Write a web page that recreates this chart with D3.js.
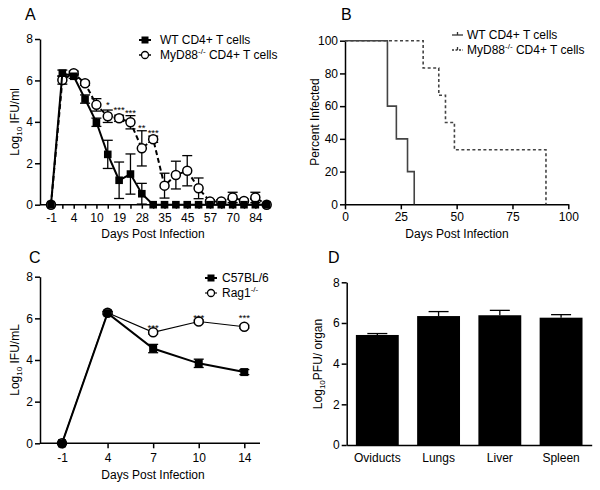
<!DOCTYPE html>
<html><head><meta charset="utf-8">
<script src="https://cdn.jsdelivr.net/npm/d3@7"></script>
<style>
body{margin:0;background:#fff;}
svg{font-family:"Liberation Sans",Arial,Helvetica,sans-serif;}
</style></head>
<body>
<svg id="chart" width="600" height="490"></svg>
<script>
// ---------- DATA ----------
// Panel A
const catsA = ["-1","1","4","7","10","14","19","24","28","31","35","40","45","50","57","63","70","77","84","90"];
const labelsA = ["-1","4","10","19","28","35","45","57","70","84"];
const wtMean = [0,6.35,6.2,5.1,3.98,2.43,1.18,1.48,0.53,0,0,0,0,0,0,0,0,0,0,0];
const wtErr  = [0,0.15,0.1,0.2,0.2,0.68,0.88,0.97,0.5,0,0,0,0,0,0,0,0,0,0,0];
const myMean = [0,6.02,6.35,5.86,4.82,4.27,4.17,3.98,2.72,3.16,0.92,1.43,1.64,0.79,0.16,0.16,0.35,0.18,0.35,0];
const myErr  = [0,0.2,0.1,0.1,0.3,0.3,0.15,0.32,0.85,0.15,0.6,0.67,0.73,0.5,0.08,0.08,0.25,0.08,0.25,0];
const starsA = ["","","","","","*","***","***","**","***","","","","","","","","","",""];
const starYA = [0,0,0,0,0,4.97,4.7,4.57,3.85,3.6,0,0,0,0,0,0,0,0,0,0];
const seriesA = ["WT CD4+ T cells","MyD88"];
const ticksA = [0,2,4,6,8];
// Panel B
const wtDays = [0,19,23,28,31];
const wtPct  = [100,60,40,20,0];
const myDays = [0,35,42,45,49,90];
const myPct  = [100,83.3,66.7,50,33.3,0];
const ticksBx = [0,25,50,75,100];
const ticksBy = [0,20,40,60,80,100];
// Panel C
const catsC = ["-1","4","7","10","14"];
const c57Mean = [0,6.25,4.55,3.84,3.42];
const c57Err  = [0,0.08,0.2,0.2,0.12];
const ragMean = [0,6.27,5.33,5.85,5.6];
const ragErr  = [0,0.05,0.08,0.07,0.07];
const starsC  = ["","","***","***","***"];
const starYC  = [0,0,5.75,6.2,6.2];
const seriesC = ["C57BL/6","Rag1"];
// Panel D
const organs = ["Oviducts","Lungs","Liver","Spleen"];
const pfuMean = [5.41,6.34,6.38,6.26];
const pfuErr  = [0.07,0.22,0.24,0.15];

// ---------- HELPERS ----------
const svg = d3.select("#chart");
const FS = 12;
function styleAxis(g){
  g.selectAll("path.domain").attr("stroke","#000").attr("stroke-width",1.5);
  g.selectAll(".tick line").attr("stroke","#000").attr("stroke-width",1.5);
  g.selectAll(".tick text").attr("font-size",FS).attr("fill","#000")
   .attr("font-family",'"Liberation Sans",Arial,sans-serif');
}
function panelLabel(x,y,t){
  svg.append("text").attr("x",x).attr("y",y).attr("font-size",16).text(t);
}
function xTitle(x,y,t){
  svg.append("text").attr("x",x).attr("y",y).attr("text-anchor","middle").attr("font-size",FS).text(t);
}
function yTitleLog(x,y,pre,sub,post){
  const t = svg.append("text").attr("transform",`translate(${x},${y}) rotate(-90)`)
    .attr("text-anchor","middle").attr("font-size",FS);
  t.append("tspan").text(pre);
  t.append("tspan").attr("font-size",8).attr("dy",3).text(sub);
  t.append("tspan").attr("dy",-3).text(post);
}
function star(g,x,y,s){
  g.append("text").attr("x",x).attr("y",y).attr("text-anchor","middle")
   .attr("font-size",9.5).attr("fill","#000").text(s);
}
function errBars(g, xs, ys, means, errs, cap, upOnly){
  means.forEach((m,i)=>{
    const e = errs[i]; if(!e) return;
    const x = xs(i), yt = ys(m+e), yb = upOnly ? ys(m) : ys(m-e);
    g.append("line").attr("x1",x).attr("x2",x).attr("y1",yt).attr("y2",yb).attr("stroke","#000").attr("stroke-width",1.3);
    g.append("line").attr("x1",x-cap).attr("x2",x+cap).attr("y1",yt).attr("y2",yt).attr("stroke","#000").attr("stroke-width",1.3);
    if(!upOnly) g.append("line").attr("x1",x-cap).attr("x2",x+cap).attr("y1",yb).attr("y2",yb).attr("stroke","#000").attr("stroke-width",1.3);
  });
}

// ---------- PANEL A ----------
(function(){
  const x0=40, x1=270, yTop=39, yBot=204.7;
  const x = d3.scalePoint().domain(catsA).range([51,266.7]);
  const y = d3.scaleLinear().domain([0,8]).range([yBot,yTop]);
  const gx = svg.append("g").attr("transform",`translate(0,${yBot})`)
    .call(d3.axisBottom(x).tickSizeOuter(0).tickSize(4).tickFormat(d=>labelsA.includes(d)?d:""));
  gx.select("path.domain").attr("d",`M${x0},0H${x1}`);
  styleAxis(gx); gx.selectAll(".tick text").attr("dy","0.9em");
  const gy = svg.append("g").attr("transform",`translate(${x0},0)`)
    .call(d3.axisLeft(y).tickValues(ticksA).tickSize(5).tickPadding(2).tickSizeOuter(0));
  styleAxis(gy);
  const xi = i=>x(catsA[i]);
  const g = svg.append("g");
  // MyD88
  errBars(g, xi, y, myMean, myErr, 5, false);
  g.append("path").datum(myMean).attr("fill","none").attr("stroke","#000").attr("stroke-width",2)
    .attr("stroke-dasharray","5,3")
    .attr("d", d3.line().x((d,i)=>xi(i)).y(d=>y(d)));
  g.selectAll("circle.my").data(myMean).join("circle").attr("class","my")
    .attr("cx",(d,i)=>xi(i)).attr("cy",d=>y(d)).attr("r",4.5)
    .attr("fill","#fff").attr("stroke","#000").attr("stroke-width",1.5);
  // WT
  errBars(g, xi, y, wtMean, wtErr, 5, false);
  g.append("path").datum(wtMean).attr("fill","none").attr("stroke","#000").attr("stroke-width",2)
    .attr("d", d3.line().x((d,i)=>xi(i)).y(d=>y(d)));
  g.selectAll("rect.wt").data(wtMean).join("rect").attr("class","wt")
    .attr("x",(d,i)=>xi(i)-3.8).attr("y",d=>y(d)-3.8).attr("width",7.6).attr("height",7.6).attr("fill","#000");
  // stars
  starsA.forEach((s,i)=>{ if(s) star(g, xi(i), y(starYA[i])+6, s); });
  // legend
  const L = svg.append("g");
  L.append("line").attr("x1",139).attr("x2",151).attr("y1",40).attr("y2",40).attr("stroke","#000").attr("stroke-width",2);
  L.append("rect").attr("x",141.5).attr("y",36.5).attr("width",7).attr("height",7);
  L.append("text").attr("x",160).attr("y",44).attr("font-size",FS).text(seriesA[0]);
  L.append("line").attr("x1",139).attr("x2",151).attr("y1",55).attr("y2",55).attr("stroke","#000").attr("stroke-width",1.5).attr("stroke-dasharray","3,2");
  L.append("circle").attr("cx",145).attr("cy",55).attr("r",3.5).attr("fill","#fff").attr("stroke","#000").attr("stroke-width",1.3);
  const t2 = L.append("text").attr("x",160).attr("y",59).attr("font-size",FS);
  t2.append("tspan").text(seriesA[1]);
  t2.append("tspan").attr("font-size",8).attr("dy",-5).text("-/-");
  t2.append("tspan").attr("dy",5).text(" CD4+ T cells");
  panelLabel(25,20,"A");
  yTitleLog(19,122,"Log","10"," IFU/ml");
  xTitle(153,238,"Days Post Infection");
})();

// ---------- PANEL B ----------
(function(){
  const yTop=40.7, yBot=204.3;
  const x = d3.scaleLinear().domain([0,100]).range([345,568.3]);
  const y = d3.scaleLinear().domain([0,100]).range([yBot,yTop]);
  const gx = svg.append("g").attr("transform",`translate(0,${yBot})`)
    .call(d3.axisBottom(x).tickValues(ticksBx).tickSize(5).tickSizeOuter(0));
  styleAxis(gx);
  const gy = svg.append("g").attr("transform",`translate(345,0)`)
    .call(d3.axisLeft(y).tickValues(ticksBy).tickSize(5).tickPadding(2).tickSizeOuter(0));
  styleAxis(gy);
  const line = d3.line().curve(d3.curveStepAfter).x(d=>x(d[0])).y(d=>y(d[1]));
  svg.append("path").datum(wtDays.map((d,i)=>[d,wtPct[i]])).attr("fill","none")
    .attr("stroke","#444").attr("stroke-width",1.6).attr("d",line);
  svg.append("path").datum(myDays.map((d,i)=>[d,myPct[i]])).attr("fill","none")
    .attr("stroke","#444").attr("stroke-width",1.6).attr("stroke-dasharray","3,2.5").attr("d",line);
  const L = svg.append("g");
  L.append("line").attr("x1",452).attr("x2",463).attr("y1",35).attr("y2",35).attr("stroke","#333").attr("stroke-width",1.3);
  L.append("line").attr("x1",457.5).attr("x2",457.5).attr("y1",32).attr("y2",35).attr("stroke","#333").attr("stroke-width",1.3);
  L.append("text").attr("x",467).attr("y",39).attr("font-size",FS).text("WT CD4+ T cells");
  L.append("line").attr("x1",452).attr("x2",463).attr("y1",50).attr("y2",50).attr("stroke","#333").attr("stroke-width",1.3).attr("stroke-dasharray","2,1.5");
  L.append("line").attr("x1",457.5).attr("x2",457.5).attr("y1",47).attr("y2",50).attr("stroke","#333").attr("stroke-width",1.3);
  const t2 = L.append("text").attr("x",467).attr("y",54).attr("font-size",FS);
  t2.append("tspan").text("MyD88");
  t2.append("tspan").attr("font-size",8).attr("dy",-5).text("-/-");
  t2.append("tspan").attr("dy",5).text(" CD4+ T cells");
  panelLabel(341,20,"B");
  svg.append("text").attr("transform","translate(319,122) rotate(-90)").attr("text-anchor","middle").attr("font-size",FS).text("Percent Infected");
  xTitle(457,238,"Days Post Infection");
})();

// ---------- PANEL C ----------
(function(){
  const x0=40, x1=260, yTop=276.7, yBot=443.3;
  const x = d3.scalePoint().domain(catsC).range([62,244.3]);
  const y = d3.scaleLinear().domain([0,8]).range([yBot,yTop]);
  const gx = svg.append("g").attr("transform",`translate(0,${yBot})`)
    .call(d3.axisBottom(x).tickSize(5).tickSizeOuter(0));
  gx.select("path.domain").attr("d",`M${x0},0H${x1}`);
  styleAxis(gx); gx.selectAll(".tick text").attr("dy","0.9em");
  const gy = svg.append("g").attr("transform",`translate(${x0},0)`)
    .call(d3.axisLeft(y).tickValues(ticksA).tickSize(5).tickPadding(2).tickSizeOuter(0));
  styleAxis(gy);
  const xi = i=>x(catsC[i]);
  const g = svg.append("g");
  errBars(g, xi, y, ragMean, ragErr, 5, false);
  g.append("path").datum(ragMean).attr("fill","none").attr("stroke","#000").attr("stroke-width",1.1)
    .attr("d", d3.line().x((d,i)=>xi(i)).y(d=>y(d)));
  g.selectAll("circle.rag").data(ragMean).join("circle").attr("class","rag")
    .attr("cx",(d,i)=>xi(i)).attr("cy",d=>y(d)).attr("r",4.5)
    .attr("fill","#fff").attr("stroke","#000").attr("stroke-width",1.5);
  errBars(g, xi, y, c57Mean, c57Err, 5, false);
  g.append("path").datum(c57Mean).attr("fill","none").attr("stroke","#000").attr("stroke-width",2)
    .attr("d", d3.line().x((d,i)=>xi(i)).y(d=>y(d)));
  g.selectAll("rect.c57").data(c57Mean).join("rect").attr("class","c57")
    .attr("x",(d,i)=>xi(i)-4).attr("y",d=>y(d)-4).attr("width",8).attr("height",8).attr("fill","#000");
  starsC.forEach((s,i)=>{ if(s) star(g, xi(i), y(starYC[i])+7, s); });
  const L = svg.append("g");
  L.append("line").attr("x1",205).attr("x2",217).attr("y1",278).attr("y2",278).attr("stroke","#000").attr("stroke-width",2);
  L.append("rect").attr("x",207.5).attr("y",274.5).attr("width",7).attr("height",7);
  L.append("text").attr("x",222).attr("y",282).attr("font-size",FS).text(seriesC[0]);
  L.append("line").attr("x1",205).attr("x2",217).attr("y1",293).attr("y2",293).attr("stroke","#000").attr("stroke-width",1.1);
  L.append("circle").attr("cx",211).attr("cy",293).attr("r",3.5).attr("fill","#fff").attr("stroke","#000").attr("stroke-width",1.3);
  const t2 = L.append("text").attr("x",222).attr("y",297).attr("font-size",FS);
  t2.append("tspan").text(seriesC[1]);
  t2.append("tspan").attr("font-size",8).attr("dy",-5).text("-/-");
  panelLabel(29,263,"C");
  yTitleLog(19,360,"Log","10"," IFU/mL");
  xTitle(153,479,"Days Post Infection");
})();

// ---------- PANEL D ----------
(function(){
  const x0=346.7, x1=591.7, yTop=282.3, yBot=445;
  const x = d3.scaleBand().domain(organs).range([x0,x1]).paddingInner(0.3).paddingOuter(0.15);
  const y = d3.scaleLinear().domain([0,8]).range([yBot,yTop]);
  const g = svg.append("g");
  g.selectAll("rect.bar").data(pfuMean).join("rect").attr("class","bar")
    .attr("x",(d,i)=>x(organs[i])).attr("width",x.bandwidth())
    .attr("y",d=>y(d)).attr("height",d=>yBot-y(d)).attr("fill","#000");
  errBars(g, i=>x(organs[i])+x.bandwidth()/2, y, pfuMean, pfuErr, 10, true);
  const gx = svg.append("g").attr("transform",`translate(0,${yBot})`)
    .call(d3.axisBottom(x).tickSize(0).tickPadding(6).tickSizeOuter(0));
  styleAxis(gx); gx.selectAll(".tick text").attr("dy","0.9em");
  const gy = svg.append("g").attr("transform",`translate(${x0},0)`)
    .call(d3.axisLeft(y).tickValues(ticksA).tickSize(5).tickPadding(2).tickSizeOuter(0));
  styleAxis(gy);
  panelLabel(328,263,"D");
  yTitleLog(322,364,"Log","10","PFU/ organ");
})();
</script>
</body></html>
